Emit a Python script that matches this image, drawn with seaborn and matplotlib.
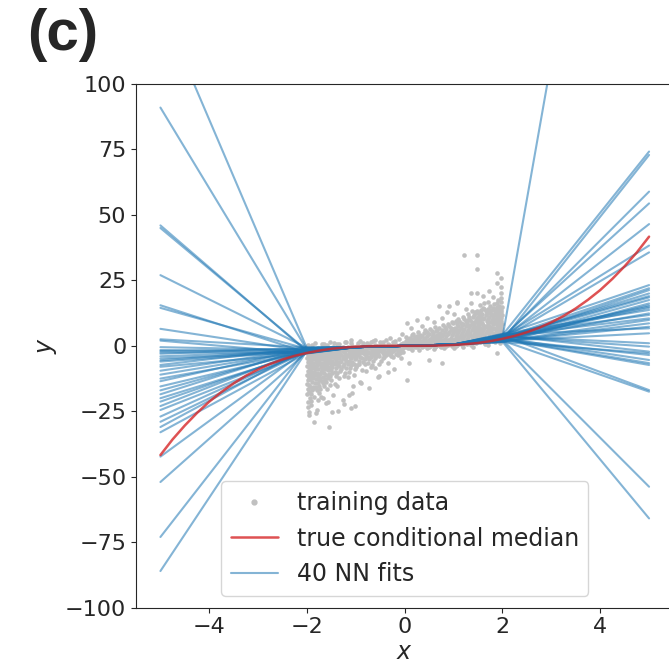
import matplotlib
matplotlib.use("Agg")
import matplotlib.pyplot as plt
import numpy as np
import pandas as pd
import seaborn as sns
from matplotlib.lines import Line2D

# training data
left_x = [
    -1.98, -1.98, -1.98, -1.98, -1.98, -1.98,
    -1.95, -1.95, -1.95, -1.95, -1.95,
    -1.91, -1.91, -1.91, -1.91, -1.91, -1.91,
    -1.88, -1.88, -1.88, -1.88, -1.88,
    -1.84, -1.84, -1.84, -1.84, -1.84,
    -1.80, -1.80, -1.80, -1.80, -1.80, -1.80,
    -1.76, -1.76, -1.76, -1.76, -1.76,
    -1.72, -1.72, -1.72, -1.72, -1.72,
    -1.68, -1.68, -1.68, -1.68, -1.68,
    -1.63, -1.63, -1.63, -1.63, -1.63,
    -1.59, -1.59, -1.59, -1.59, -1.59,
    -1.55, -1.55, -1.55, -1.55, -1.55,
    -1.50, -1.50, -1.50, -1.50, -1.50,
    -1.46, -1.46, -1.46, -1.46, -1.46,
    -1.41, -1.41, -1.41, -1.41, -1.41,
    -1.37, -1.37, -1.37, -1.37, -1.37,
    -1.32, -1.32, -1.32, -1.32,
    -1.27, -1.27, -1.27, -1.27, -1.27,
    -1.22, -1.22, -1.22, -1.22,
    -1.17, -1.17, -1.17, -1.17, -1.17,
    -1.12, -1.12, -1.12, -1.12,
    -1.07, -1.07, -1.07, -1.07, -1.07,
    -1.02, -1.02, -1.02, -1.02, -1.02,
    -0.97, -0.97, -0.97, -0.97,
    -0.91, -0.91, -0.91, -0.91,
    -0.85, -0.85, -0.85, -0.85,
    -0.79, -0.79, -0.79, -0.79,
    -0.73, -0.73, -0.73, -0.73, -0.73,
    -0.67, -0.67, -0.67, -0.67,
    -0.61, -0.61, -0.61, -0.61,
    -0.55, -0.55, -0.55, -0.55,
    -0.49, -0.49, -0.49, -0.49,
    -0.42, -0.42, -0.42, -0.42,
    -0.35, -0.35, -0.35, -0.35,
    -0.28, -0.28, -0.28, -0.28,
    -0.21, -0.21, -0.21, -0.21,
    -0.14, -0.14, -0.14, -0.14,
    -0.07, -0.07, -0.07, -0.07,
    -1.90, -1.70, -1.45, -1.20, -0.95, -0.70, -0.45, -0.20,
    -0.30, -0.60, -1.10, -0.05, -1.60, -1.35, -0.85,
]
left_y = [
    -3.5, -6, -9.5, -13, -16.5, -21.3,
    -2.2, -4.8, -8, -11.5, -14.8,
    -3, -5.5, -7.2, -10, -18.4, -22.6,
    -1.5, -4, -6.6, -12.4, -15.6,
    -2.5, -5, -9, -11, -14,
    -1.8, -3.6, -7.5, -10.5, -17, -24.5,
    -2.2, -4.5, -6, -13, -15.2,
    -1.2, -3, -8.2, -9.8, -19.4,
    -2, -5.2, -7, -11.8, -14,
    -1.4, -3.8, -6.2, -9, -12.6,
    -0.8, -2.6, -4.6, -8, -16.5,
    -1.6, -3.4, -5.8, -10.6, -30.9,
    -1, -2.8, -7, -9.4, -13.2,
    -0.6, -2, -4.2, -6.4, -18.8,
    -1.3, -3.2, -5.4, -8.6, -11.4,
    -0.5, -2.4, -4, -7.4, -25,
    -1, -3, -6, -9.6,
    -0.4, -1.8, -4.6, -7.8, -20.7,
    -0.9, -2.6, -5.2, -10.2,
    -0.3, -1.6, -3.6, -6.8, -12,
    -0.8, -2.2, -4.4, -8.4,
    -0.2, -1.4, -3.2, -6, -18.1,
    -0.6, -2.6, -5, -9, -23,
    -0.1, -1.2, -3.4, -7.2,
    -0.5, -2, -4.2, -13.7,
    0.2, -1.4, -2.8, -6.2,
    -0.4, -1.9, -3.8, -9.5,
    0.3, -1, -2.6, -5.2, -16.2,
    -0.3, -1.6, -3.6, -7.5,
    0.4, -0.9, -2.4, -4.6,
    -0.2, -1.4, -3.2, -11.8,
    0.5, -0.8, -2, -5.6,
    -0.1, -1.2, -3, -4.2,
    0.6, -0.7, -1.8, -6.6,
    0, -1.1, -2.6, -3.8,
    0.7, -0.5, -1.6, -9,
    0.1, -0.9, -2.4, -3.4,
    0.8, -0.4, -1.4, -4.8,
    0.5, 0.8, 1.2, 1.4, 1.0, 1.6, 1.3, 1.8,
    3.0, 2.4, 2.2, 4.5, 0.2, 0.6, 0.9,
]

# second pass over the left cloud, between the first columns
left2_x = [
    -1.995, -1.995, -1.995, -1.995, -1.995, -1.995,
    -1.965, -1.965, -1.965, -1.965, -1.965, -1.965,
    -1.93, -1.93, -1.93, -1.93, -1.93, -1.93, -1.93,
    -1.895, -1.895, -1.895, -1.895, -1.895, -1.895,
    -1.86, -1.86, -1.86, -1.86, -1.86, -1.86,
    -1.82, -1.82, -1.82, -1.82, -1.82, -1.82,
    -1.78, -1.78, -1.78, -1.78, -1.78, -1.78,
    -1.74, -1.74, -1.74, -1.74, -1.74, -1.74,
    -1.70, -1.70, -1.70, -1.70, -1.70, -1.70,
    -1.655, -1.655, -1.655, -1.655, -1.655,
    -1.61, -1.61, -1.61, -1.61, -1.61,
    -1.57, -1.57, -1.57, -1.57, -1.57, -1.57,
    -1.525, -1.525, -1.525, -1.525, -1.525,
    -1.48, -1.48, -1.48, -1.48, -1.48,
    -1.435, -1.435, -1.435, -1.435, -1.435,
    -1.39, -1.39, -1.39, -1.39,
    -1.345, -1.345, -1.345, -1.345,
    -1.295, -1.295, -1.295, -1.295,
    -1.245, -1.245, -1.245, -1.245,
    -1.195, -1.195, -1.195, -1.195,
    -1.145, -1.145, -1.145, -1.145,
    -1.095, -1.095, -1.095, -1.095,
    -1.045, -1.045, -1.045, -1.045,
    -0.995, -0.995, -0.995, -0.995,
    -0.94, -0.94, -0.94, -0.94,
    -0.88, -0.88, -0.88, -0.88,
    -0.82, -0.82, -0.82, -0.82,
    -0.76, -0.76, -0.76, -0.76,
    -0.70, -0.70, -0.70, -0.70,
    -0.64, -0.64, -0.64, -0.64,
    -0.58, -0.58, -0.58, -0.58,
    -0.52, -0.52, -0.52, -0.52,
    -0.455, -0.455, -0.455, -0.455,
    -0.385, -0.385, -0.385,
    -0.315, -0.315, -0.315,
    -0.245, -0.245, -0.245,
    -0.175, -0.175, -0.175,
    -0.105, -0.105, -0.105,
    -0.035, -0.035, -0.035, -0.035,
    -1.97, -1.83, -1.66, -1.52, -1.39, -1.23, -1.09,
    -0.92, -0.78, -0.64, -0.50, -0.38, -0.25, -0.12,
]
left2_y = [
    -1.5, -4.6, -7.8, -11.2, -14.6, -18.2,
    -2.8, -5.4, -10.6, -12.4, -17.6, -25.4,
    -1.4, -4, -6.4, -8.8, -12.8, -15.8, -20,
    -2.6, -5, -8.4, -11, -13.8, -17,
    -1.2, -3.4, -7.6, -9.8, -16.2, -19.6,
    -2.8, -4.2, -6.2, -8.4, -12.6, -15.6,
    -1, -5.4, -9, -11.6, -14, -20.6,
    -3.6, -5.2, -7, -10.6, -12.2, -16.4,
    -0.6, -2.2, -4.2, -6.4, -9.2, -13.4,
    -3, -4.4, -8, -10.2, -15.4,
    -2, -5.2, -7.2, -11, -13.8,
    -1.2, -3.8, -6.6, -9.2, -12.4, -21.5,
    -2.2, -4.6, -8.2, -11.4, -15,
    -1.6, -3.6, -5.6, -8, -10.4,
    -2.6, -4.8, -7, -9.8, -14.4,
    -1.8, -3.8, -6.2, -10.4,
    -2.2, -4.6, -7.8, -12.2,
    -1.2, -3.6, -5.8, -8.8,
    -2, -3.8, -6.8, -11.4,
    -1.2, -4.4, -5.8, -8.6,
    -1.6, -3, -5.6, -10,
    -0.8, -2.8, -4.8, -7.2,
    -1.8, -3.8, -6.8, -11.2,
    -0.6, -2.2, -4.6, -8,
    -1.4, -3, -5.6, -6.8,
    -0.8, -2.4, -4.8, -9.2,
    -1.2, -3.2, -5.2, -7,
    -0.4, -2.2, -4.4, -6.4,
    -1, -2.8, -4.2, -8.2,
    -0.5, -2, -3.2, -5.6,
    0, -1, -2.8, -4,
    -0.5, -1.6, -3.8, -6.8,
    0.2, -1.6, -2.6, -4.8,
    -0.4, -2.2, -3.4,
    0.3, -1.4, -3.2,
    -0.2, -2, -4.4,
    0.4, -1.2, -3,
    -0.3, -2, -2.8,
    0.4, -1, -2.2, 1.2,
    0.4, 1.0, 0.6, 1.4, 0.8, 1.6, 0.9,
    1.8, 1.2, 2.0, 1.4, 2.2, 1.6, 2.6,
]

right_x = [
    0.07, 0.07, 0.07, 0.07,
    0.14, 0.14, 0.14, 0.14,
    0.21, 0.21, 0.21, 0.21,
    0.28, 0.28, 0.28, 0.28,
    0.35, 0.35, 0.35, 0.35,
    0.42, 0.42, 0.42, 0.42,
    0.49, 0.49, 0.49, 0.49,
    0.55, 0.55, 0.55, 0.55,
    0.61, 0.61, 0.61, 0.61,
    0.67, 0.67, 0.67, 0.67,
    0.73, 0.73, 0.73, 0.73,
    0.79, 0.79, 0.79, 0.79,
    0.85, 0.85, 0.85, 0.85,
    0.91, 0.91, 0.91, 0.91,
    0.97, 0.97, 0.97, 0.97,
    1.02, 1.02, 1.02, 1.02,
    1.07, 1.07, 1.07, 1.07, 1.07,
    1.12, 1.12, 1.12, 1.12,
    1.17, 1.17, 1.17, 1.17,
    1.22, 1.22, 1.22, 1.22,
    1.27, 1.27, 1.27, 1.27,
    1.32, 1.32, 1.32, 1.32,
    1.37, 1.37, 1.37, 1.37, 1.37,
    1.41, 1.41, 1.41, 1.41,
    1.46, 1.46, 1.46, 1.46, 1.46,
    1.50, 1.50, 1.50, 1.50,
    1.55, 1.55, 1.55, 1.55, 1.55,
    1.59, 1.59, 1.59, 1.59,
    1.63, 1.63, 1.63, 1.63, 1.63,
    1.68, 1.68, 1.68, 1.68,
    1.72, 1.72, 1.72, 1.72, 1.72,
    1.76, 1.76, 1.76, 1.76,
    1.80, 1.80, 1.80, 1.80, 1.80,
    1.84, 1.84, 1.84, 1.84,
    1.88, 1.88, 1.88, 1.88, 1.88,
    1.91, 1.91, 1.91, 1.91,
    1.95, 1.95, 1.95, 1.95, 1.95,
    1.98, 1.98, 1.98, 1.98,
    0.30, 0.60, 1.00, 1.40, 1.70, 1.95, 1.20, 0.80,
]
right_y = [
    -0.8, 0.4, 1.4, 2.6,
    -0.1, 0.9, 2.2, 4,
    -0.6, 0.6, 1.8, 3.2,
    0, 1.2, 2.6, 5.2,
    -0.5, 0.8, 2, 3.6,
    0.2, 1.4, 3, 6,
    -0.4, 1, 2.4, 4.4,
    0.3, 1.8, 3.4, 5.6,
    -0.3, 1.2, 2.8, 7.2,
    0.4, 2, 4, 6.2,
    -0.2, 1.5, 3.2, 5,
    0.5, 2.4, 4.6, 8,
    0, 1.7, 3.6, 6.4,
    0.6, 2.2, 5.2, 7.6,
    0.1, 1.8, 4, 9,
    0.8, 2.8, 5.6, 7,
    0.3, 2.2, 4.4, 8.4, 16.2,
    1, 3.2, 6, 9.6,
    0.5, 2.6, 4.8, 7.8,
    1.2, 3.6, 6.6, 10.4,
    0.7, 2.8, 5.4, 8.6,
    1.4, 4, 7.2, 11,
    0.9, 3.2, 6, 9.2, 13.5,
    1.6, 4.4, 7.8, 11.6,
    1.1, 3.4, 6.4, 10, 12.4,
    1.8, 4.8, 8.4, 11.2,
    1.3, 3.8, 7, 9.8, 13,
    2, 5.2, 8.8, 12,
    1.5, 4.2, 6.8, 10.6, 14,
    2.3, 5.6, 9.4, 12.6,
    1.8, 4.6, 7.6, 11, 13.6,
    2.6, 6, 9, 12.2,
    2, 5, 8.2, 10.8, 14.4,
    2.9, 6.4, 9.6, 12.8,
    2.3, 5.4, 7.8, 11.4, 15,
    3.2, 6.8, 10.2, 13.4,
    2.6, 5.8, 8.6, 12, 14.6,
    3.4, 7.2, 10.8, 13.8,
    -1.4, -1.2, -0.9, -0.4, 0.3, 1.2, -0.6, -1.0,
]

# second pass over the right cloud
right2_x = [
    0.035, 0.035, 0.035, 0.035,
    0.105, 0.105, 0.105, 0.105,
    0.175, 0.175, 0.175, 0.175,
    0.245, 0.245, 0.245, 0.245,
    0.315, 0.315, 0.315, 0.315,
    0.385, 0.385, 0.385, 0.385,
    0.455, 0.455, 0.455, 0.455,
    0.52, 0.52, 0.52, 0.52,
    0.58, 0.58, 0.58, 0.58,
    0.64, 0.64, 0.64, 0.64,
    0.70, 0.70, 0.70, 0.70,
    0.76, 0.76, 0.76, 0.76,
    0.82, 0.82, 0.82, 0.82,
    0.88, 0.88, 0.88, 0.88,
    0.94, 0.94, 0.94, 0.94,
    0.995, 0.995, 0.995, 0.995, 0.995,
    1.045, 1.045, 1.045, 1.045,
    1.095, 1.095, 1.095, 1.095, 1.095,
    1.145, 1.145, 1.145, 1.145,
    1.195, 1.195, 1.195, 1.195, 1.195,
    1.245, 1.245, 1.245, 1.245,
    1.295, 1.295, 1.295, 1.295, 1.295,
    1.345, 1.345, 1.345, 1.345,
    1.39, 1.39, 1.39, 1.39, 1.39,
    1.435, 1.435, 1.435, 1.435,
    1.48, 1.48, 1.48, 1.48, 1.48,
    1.525, 1.525, 1.525, 1.525, 1.525,
    1.57, 1.57, 1.57, 1.57, 1.57,
    1.61, 1.61, 1.61, 1.61, 1.61,
    1.655, 1.655, 1.655, 1.655, 1.655,
    1.70, 1.70, 1.70, 1.70, 1.70,
    1.74, 1.74, 1.74, 1.74, 1.74,
    1.78, 1.78, 1.78, 1.78, 1.78,
    1.82, 1.82, 1.82, 1.82, 1.82,
    1.86, 1.86, 1.86, 1.86, 1.86,
    1.895, 1.895, 1.895, 1.895, 1.895,
    1.93, 1.93, 1.93, 1.93, 1.93,
    1.965, 1.965, 1.965, 1.965, 1.965,
    1.995, 1.995, 1.995, 1.995, 1.995,
    0.15, 0.45, 0.75, 1.05, 1.35, 1.65, 1.85,
]
right2_y = [
    -0.4, 0.8, 2, 3.4,
    -1, 0.2, 1.6, 3,
    0.4, 1.4, 2.8, 4.6,
    -0.3, 0.9, 2.2, 3.8,
    0.5, 1.8, 3.2, 4.2,
    -0.2, 1, 2.6, 4.8,
    0.6, 2, 3.6, 5.2,
    0, 1.4, 2.8, 6.4,
    0.8, 2.4, 4.2, 5,
    0.1, 1.6, 3.4, 5.8,
    0.9, 2.6, 4.6, 6.8,
    0.2, 1.8, 3.8, 6,
    1, 2.8, 5.2, 7.2,
    0.4, 2.2, 4.4, 8.2,
    1.2, 3, 6, 7,
    0.5, 2.4, 4.8, 6.6, 8.6,
    1.4, 3.6, 6.4, 9.4,
    0.8, 2.8, 5.2, 7.4, 10.2,
    1.6, 4, 6.8, 8.8,
    1, 3, 5.6, 8.2, 11,
    1.8, 4.4, 7.4, 9.6,
    1.2, 3.4, 6.2, 10, 12,
    2, 4.8, 8, 9.8,
    1.4, 3.8, 6.8, 8.4, 11.2,
    2.2, 5.2, 9, 12.8,
    1.6, 4, 7.2, 10.8, 13.4,
    2.4, 5.8, 7.8, 9.6, 12.2,
    1.8, 4.4, 6.4, 11, 13.6,
    2.6, 6.2, 8, 10.4, 14.6,
    2, 4.8, 7.4, 11.6, 13.2,
    2.8, 6.8, 8.6, 10.2, 14.2,
    2.2, 5.2, 7.2, 12.4, 15.4,
    3, 7, 10, 11.6, 13.8,
    2.4, 4.4, 6.8, 11.8, 15.8,
    3.2, 5, 8.8, 10.4, 14,
    2.6, 6.2, 9, 12.6, 16.2,
    3.4, 4.6, 7.4, 11.4, 15.4,
    2.8, 6.4, 9.6, 13, 16.6,
    3.6, 5.4, 8.2, 11.8, 15,
    -1.6, -1.0, -0.6, -0.2, 0.2, 0.8, 1.4,
]

outlier_x = [
    -1.99, -1.86, -1.82, -1.48, -1.10, -1.14, -1.68, -1.92, -1.25, -0.90,
    -0.53, 0.05, -1.95, -1.62, -1.38, -1.75, -1.05, -0.60, -0.35,
    1.21, 1.47, 1.48, 1.89, 1.96, 1.89, 1.96, 1.96, 1.72, 1.48,
    1.35, 1.35, 1.62, 0.70, 0.90, 0.87, 1.07, 0.77, 0.46, 0.26,
    0.05, 0.12, 1.90, 1.80, 1.60, 1.25, 1.00, 0.60, 0.35, 0.09,
    0.50, 0.77, 1.89, 1.55, 1.70, 1.98,
]
outlier_y = [
    -23.2, -29, -25.8, -25.1, -23.6, -18.8, -19.8, -21, -22.2, -14.2,
    -11.5, -13, -26.5, -22, -15.5, -18, -15.2, -8.5, -9.8,
    34.7, 34.7, 29.2, 28, 25.8, 23.9, 22.6, 20, 21, 20.3,
    20, 16.2, 16.2, 15.2, 15.2, 13, 16.8, 10.5, 10.5, 9.9,
    8.6, 6.7, 17.5, 18.5, 19, 14, 12, 9, 7.5, -6.7,
    -5.4, -6.7, -2.9, 15.5, 16.8, 18.2,
]

# true conditional median
median_x = [-5, -4.75, -4.5, -4.25, -4, -3.75, -3.5, -3.25, -3, -2.75, -2.5,
            -2.25, -2, -1.75, -1.5, -1.25, -1, -0.75, -0.5, -0.25, 0,
            0.25, 0.5, 0.75, 1, 1.25, 1.5, 1.75, 2, 2.25, 2.5,
            2.75, 3, 3.25, 3.5, 3.75, 4, 4.25, 4.5, 4.75, 5]
median_y = [-41.7, -35.7, -30.4, -25.6, -21.3, -17.6, -14.3, -11.4, -9.0, -6.9, -5.2,
            -3.8, -2.7, -1.8, -1.1, -0.65, -0.33, -0.14, -0.04, 0.0, 0.0,
            0.0, 0.04, 0.14, 0.33, 0.65, 1.1, 1.8, 2.7, 3.8, 5.2,
            6.9, 9.0, 11.4, 14.3, 17.6, 21.3, 25.6, 30.4, 35.7, 41.7]

# 40 NN fits: value at x=-5, kink at x=-2, shared middle, kink at x=2, value at x=5
fit_left = [130, 91, 46, 45, 27, 15.5, 14.5, 6.5, 2.5, 2,
            -0.5, -1.6, -2, -2.5, -3, -4, -4.8, -5.5, -6, -7.3,
            -8, -9.5, -11, -12.5, -13.5, -15.5, -17, -18.5, -20, -21.3,
            -23, -24.5, -27, -29, -31, -33, -42.3, -52, -73, -86]
fit_kink_left = [-1.0, -1.5, -2.2, -1.8, -0.8, -2.6, -1.2, -2.0, -0.6, -2.9,
                 -1.6, -2.3, -1.1, -2.7, -0.9, -1.9, -2.4, -1.4, -2.1, -0.7,
                 -2.8, -1.3, -1.7, -2.5, -1.0, -2.2, -1.5, -0.8, -2.6, -1.9,
                 -1.2, -2.4, -1.6, -2.0, -0.9, -2.7, -1.4, -2.3, -1.1, -1.8]
fit_mid_x = [-1, 0, 1]
fit_mid_y = [-0.5, 0.0, 0.5]
fit_kink_right = [2.6, 3.2, 1.8, 3.9, 2.2, 4.4, 2.9, 1.5, 3.5, 2.4,
                  4.1, 2.0, 3.0, 1.7, 3.7, 2.7, 4.6, 2.3, 3.3, 1.9,
                  2.8, 3.6, 1.4, 4.2, 2.5, 3.1, 2.1, 3.8, 1.6, 2.9,
                  4.0, 2.2, 3.4, 1.8, 2.6, 4.3, 3.0, 2.4, 3.5, 2.0]
fit_right = [14.5, 320, 9.9, -16.9, 21.3, 6.7, 58.9, -2.8, 15, 12.4,
             74.2, 17.5, -5.4, 8.6, 1, 35.7, 13.7, -53.8, 19, 4.8,
             46.5, -0.3, 16.2, 11.8, -7.3, 22, 72.9, 10.5, -65.9, 18.5,
             -2.2, 15.5, 54.4, 7.3, -6.6, 23.2, 20, -3.5, 38.3, -17.5]

train_x = left_x + left2_x + right_x + right2_x + outlier_x
train_y = left_y + left2_y + right_y + right2_y + outlier_y

rows = []
for i in range(len(fit_left)):
    xs = [-5, -2] + fit_mid_x + [2, 5]
    ys = [fit_left[i], fit_kink_left[i]] + fit_mid_y + [fit_kink_right[i], fit_right[i]]
    for x, y in zip(xs, ys):
        rows.append((i, x, y))
fits_df = pd.DataFrame(rows, columns=["fit", "x", "y"])

sns.set_style("ticks")
plt.rcParams["font.family"] = ["DejaVu Sans"]

fig = plt.figure(figsize=(6.69, 6.66), dpi=100)
ax = fig.add_axes([136 / 669, 58.3 / 666, 537.5 / 669, 523.7 / 666])

grey = "#c0c0c0"
blue_alpha = 0.55
red_alpha = 0.8

sns.scatterplot(x=train_x, y=train_y, color=grey, s=11, linewidth=0, ax=ax, zorder=1)
sns.lineplot(data=fits_df, x="x", y="y", units="fit", estimator=None, sort=False,
             color="tab:blue", alpha=blue_alpha, lw=1.5, ax=ax, zorder=2)
sns.lineplot(x=median_x, y=median_y, color="tab:red", alpha=red_alpha, lw=1.8,
             ax=ax, zorder=3)

ax.set_xlim(-5.5, 5.5)
ax.set_ylim(-100, 100)
ax.set_xticks([-4, -2, 0, 2, 4])
ax.set_yticks([-100, -75, -50, -25, 0, 25, 50, 75, 100])
ax.tick_params(labelsize=16)
ax.set_xlabel("$x$", fontsize=17, labelpad=2)
ax.set_ylabel("$y$", fontsize=17)

handles = [
    Line2D([], [], marker="o", ls="", color=grey, markersize=3.5),
    Line2D([], [], color="tab:red", alpha=red_alpha, lw=1.8),
    Line2D([], [], color="tab:blue", alpha=blue_alpha, lw=1.5),
]
ax.legend(handles, ["training data", "true conditional median", "40 NN fits"],
          loc="lower center", fontsize=17)

fig.text(27 / 669, 1 - 8 / 666, "(c)", fontsize=42, fontweight="bold",
         family="Liberation Sans", ha="left", va="top")

fig.savefig("out.png", dpi=100)
